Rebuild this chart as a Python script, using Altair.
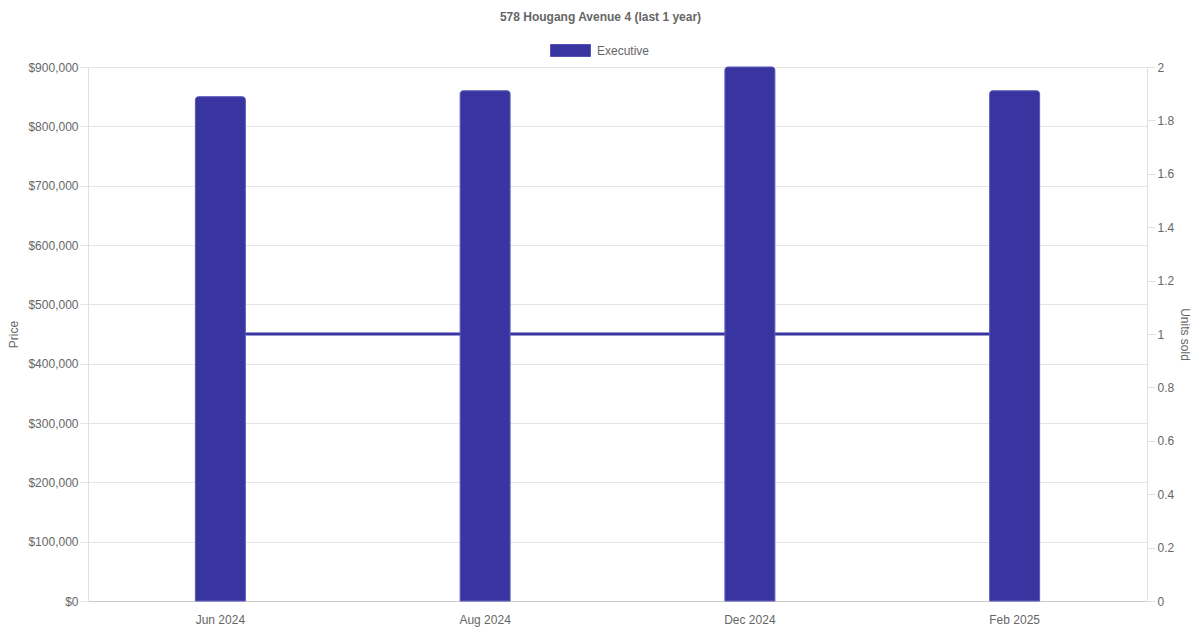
import altair as alt
import pandas as pd

months = ["Jun 2024", "Aug 2024", "Dec 2024", "Feb 2025"]
prices = [850000, 860000, 900000, 860000]
units = [1, 1, 1, 1]
flat_type = ["Executive", "Executive", "Executive", "Executive"]

df = pd.DataFrame({"month": months, "price": prices, "units": units, "type": flat_type})

COLOR = "#3835a0"
FONT = "Liberation Sans"

x = alt.X("month:O", sort=months, title=None,
          scale=alt.Scale(paddingInner=0, paddingOuter=0),
          axis=alt.Axis(labelAngle=0, ticks=False, domainColor="#cccccc",
                        labelColor="#666666", labelFontSize=12, labelPadding=13,
                        grid=False))

line = alt.Chart(df).mark_line(color=COLOR, strokeWidth=3).encode(
    x=x,
    y=alt.Y("units:Q", title="Units sold",
            scale=alt.Scale(domain=[0, 2], nice=False),
            axis=alt.Axis(orient="right", values=[0, 0.2, 0.4, 0.6, 0.8, 1, 1.2, 1.4, 1.6, 1.8, 2],
                          format=".1~f", grid=False, domainColor="#e0e0e0",
                          tickColor="#e0e0e0", tickSize=8, labelPadding=2,
                          labelColor="#666666", labelFontSize=12,
                          titleColor="#666666", titleFontSize=12, titleFontWeight="normal",
                          titleAngle=90, titleBaseline="bottom", titlePadding=4))
)

bars = alt.Chart(df).mark_bar(size=50, cornerRadiusTopLeft=3, cornerRadiusTopRight=3,
                              stroke="#5553b6", strokeWidth=1).encode(
    x=x,
    y=alt.Y("price:Q", title="Price",
            scale=alt.Scale(domain=[0, 900000], nice=False),
            axis=alt.Axis(orient="left", values=list(range(0, 900001, 100000)),
                          format="$,.0f", grid=True, gridColor="#e5e5e5",
                          domainColor="#e0e0e0", tickColor="#e5e5e5", tickSize=8,
                          labelPadding=2, labelColor="#666666", labelFontSize=12,
                          titleColor="#666666", titleFontSize=12, titleFontWeight="normal",
                          titlePadding=7)),
    color=alt.Color("type:N", scale=alt.Scale(domain=["Executive"], range=[COLOR]),
                    legend=alt.Legend(title=None, orient="none", legendX=462, legendY=-37,
                                      symbolType="M-1,-0.3H1V0.3H-1Z", symbolSize=1600,
                                      symbolStrokeColor="#5553b6", symbolStrokeWidth=1,
                                      symbolOpacity=1,
                                      labelColor="#666666", labelFontSize=12,
                                      labelOffset=6))
)

chart = alt.layer(line, bars).resolve_scale(y="independent").properties(
    width=1059, height=534,
    title=alt.TitleParams("578 Hougang Avenue 4 (last 1 year)", fontSize=12, fontWeight="bold",
                          color="#666666", offset=6, dx=-17, font=FONT),
    autosize=alt.AutoSizeParams(type="none"),
    padding={"left": 80, "top": 59, "right": 45, "bottom": 29},
).configure(font=FONT).configure_view(stroke=None)

chart.save("out.html", embed_options={"renderer": "svg", "actions": False})
